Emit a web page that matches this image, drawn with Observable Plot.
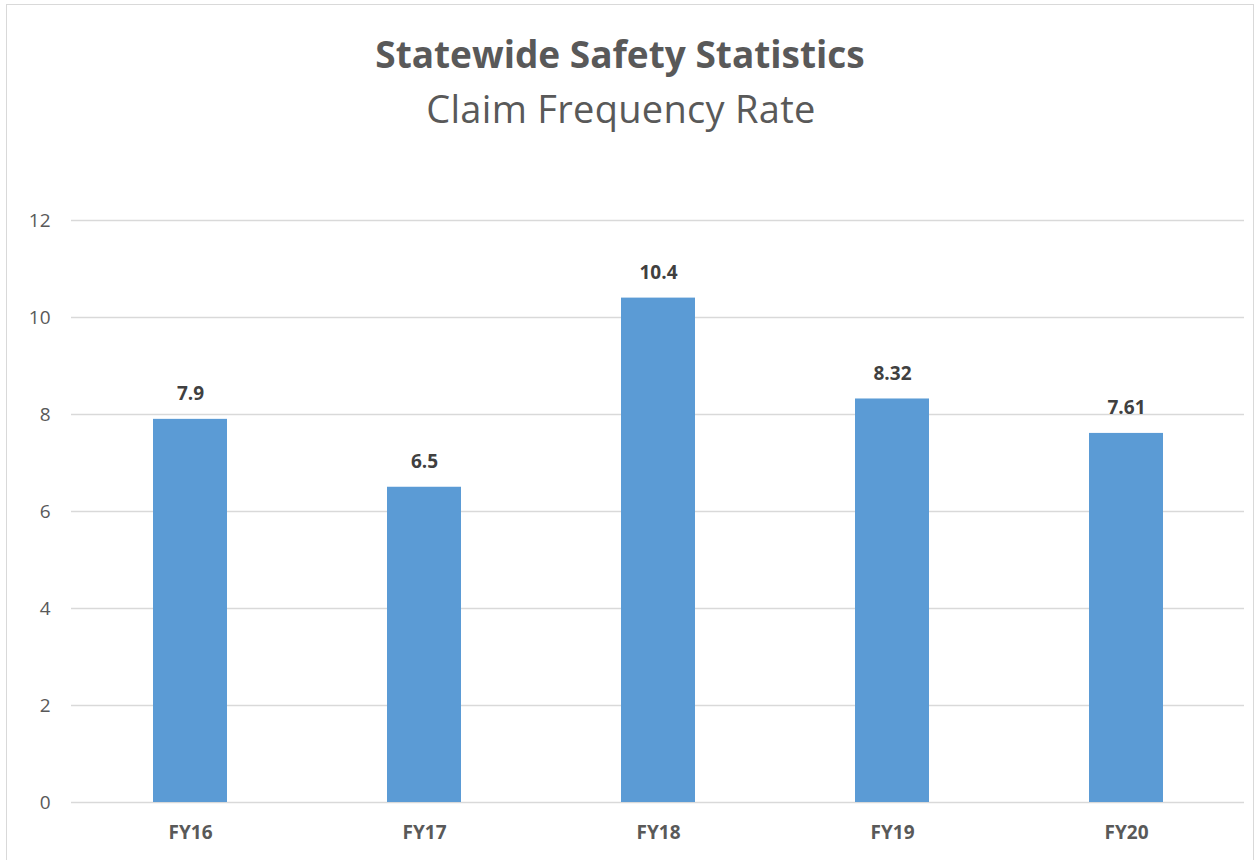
<!DOCTYPE html>
<html>
<head>
<meta charset="utf-8">
<script src="https://cdn.jsdelivr.net/npm/d3@7"></script>
<script src="https://cdn.jsdelivr.net/npm/@observablehq/plot@0.6"></script>
<style>
  html, body { margin: 0; padding: 0; background: #fff; }
  body { width: 1257px; height: 860px; position: relative; overflow: hidden; font-family: "Open Sans", Lato, sans-serif; }
  #frame { position: absolute; left: 6px; top: 4px; width: 1248px; height: 860px; border: 1.5px solid #d9d9d9; box-sizing: border-box; }
  #title { position: absolute; left: 0; width: 1240px; top: 35px; text-align: center; font-weight: bold; font-size: 37px; color: #595959; line-height: 1; white-space: nowrap; }
  #subtitle { position: absolute; left: 0; width: 1242px; top: 89px; text-align: center; font-size: 38px; color: #595959; line-height: 1; white-space: nowrap; letter-spacing: 0.3px; }
  #chart { position: absolute; left: 0; top: 150px; }
</style>
</head>
<body>
<div id="frame"></div>
<div id="title">Statewide Safety Statistics</div>
<div id="subtitle">Claim Frequency Rate</div>
<div id="chart"></div>
<script>
const categories = ["FY16", "FY17", "FY18", "FY19", "FY20"];
const values = [7.9, 6.5, 10.4, 8.32, 7.61];
const valueLabels = ["7.9", "6.5", "10.4", "8.32", "7.61"];
const yTicks = [0, 2, 4, 6, 8, 10, 12];

const data = categories.map((c, i) => ({ category: c, value: values[i], label: valueLabels[i] }));

const chart = Plot.plot({
  width: 1257,
  height: 700,
  marginLeft: 71,
  marginRight: 13,
  marginTop: 70,
  marginBottom: 48,
  style: { fontFamily: "'Open Sans', Lato, sans-serif", background: "transparent", color: "#595959" },
  x: { domain: categories, paddingInner: 0.685, paddingOuter: 0.3425, label: null },
  y: { domain: [0, 12], label: null },
  marks: [
    Plot.gridY(yTicks, { stroke: "#d9d9d9", strokeOpacity: 1, strokeWidth: 1.5 }),
    Plot.axisY(yTicks, { tickSize: 0, tickPadding: 21, fontSize: 19, fill: "#595959", label: null }),
    Plot.axisX({ tickSize: 0, tickPadding: 23, fontSize: 19, fontWeight: "bold", fill: "#595959", label: null }),
    Plot.barY(data, { x: "category", y: "value", fill: "#5b9bd5" }),
    Plot.text(data, { x: "category", y: "value", text: "label", lineAnchor: "bottom", dy: -19, fontSize: 19, fontWeight: "bold", fill: "#404040" })
  ]
});
document.getElementById("chart").appendChild(chart);
</script>
</body>
</html>
